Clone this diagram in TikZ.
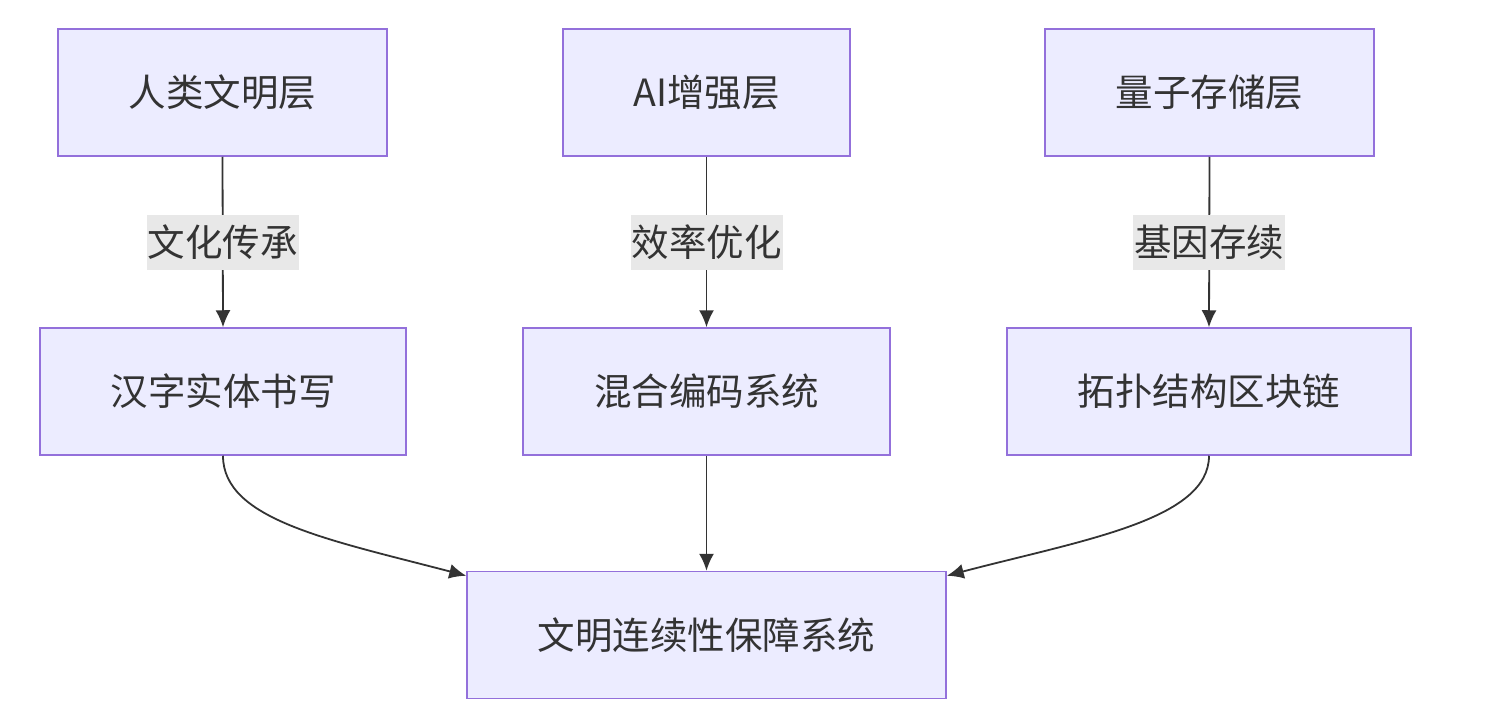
\documentclass[tikz,border=0pt]{standalone}
\usepackage{fontspec}
\setmainfont{Noto Sans CJK SC}
\usetikzlibrary{arrows.meta}
\definecolor{boxfill}{HTML}{ECECFF}
\definecolor{boxline}{HTML}{9370DB}
\definecolor{edgecol}{HTML}{333333}
\definecolor{labelbg}{HTML}{E8E8E8}
\tikzset{
  box/.style={draw=boxline,fill=boxfill,line width=1.5pt,minimum height=127pt,
    text=edgecol,font=\fontsize{37.5}{42}\selectfont},
  flow/.style={draw=edgecol,line width=1.8pt,-{Latex[length=17pt,width=15pt]}},
  tag/.style={fill=labelbg,inner xsep=1pt,inner ysep=0pt,minimum height=55pt,
    text=edgecol,font=\fontsize{37.5}{42}\selectfont}
}
\begin{document}
\begin{tikzpicture}[x=1pt,y=-1pt]
	\useasboundingbox (0,0) rectangle (1498,725);
	% top layer
	\node[box,minimum width=329pt] (human) at (222.5,92.5) {人类文明层};
	\node[box,minimum width=287pt] (ai) at (706.5,92.5) {AI增强层};
	\node[box,minimum width=329pt] (quantum) at (1209.5,92.5) {量子存储层};
	% middle layer
	\node[box,minimum width=366pt] (hanzi) at (223,391.5) {汉字实体书写};
	\node[box,minimum width=367pt] (mixed) at (706.5,391.5) {混合编码系统};
	\node[box,minimum width=404pt] (chain) at (1209,391.5) {拓扑结构区块链};
	% bottom
	\node[box,minimum width=479pt] (guard) at (706.5,635) {文明连续性保障系统};

	\draw[flow] (human.south) -- node[tag] {文化传承} (hanzi.north);
	\draw[flow] (ai.south) -- node[tag] {效率优化} (mixed.north);
	\draw[flow] (quantum.south) -- node[tag] {基因存续} (chain.north);

	\draw[flow] (hanzi.south) .. controls (223,520) and (330,540) .. ([yshift=-5pt]guard.north west);
	\draw[flow] (mixed.south) -- (guard.north);
	\draw[flow] (chain.south) .. controls (1209,520) and (1083,540) .. ([yshift=-5pt]guard.north east);
\end{tikzpicture}
\end{document}
